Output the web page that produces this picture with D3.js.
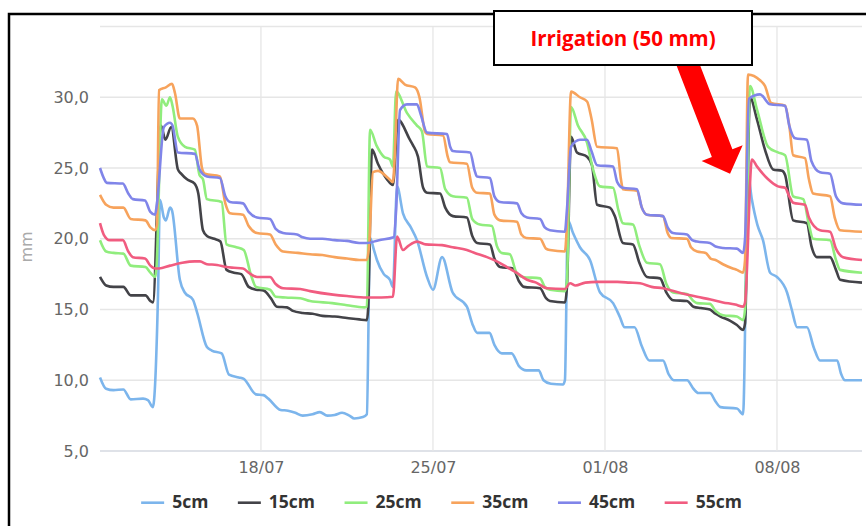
<!DOCTYPE html>
<html>
<head>
<meta charset="utf-8">
<script src="https://cdn.jsdelivr.net/npm/d3@7/dist/d3.min.js"></script>
<style>
  body { margin: 0; background: #fff; }
  svg { display: block; }
</style>
</head>
<body>
<div id="chart"></div>
<script>
// times are "day of July" (32 = 01/08), values in mm
var xTickDates = ["2016-07-18", "2016-07-25", "2016-08-01", "2016-08-08"];
var yTicks = [5, 10, 15, 20, 25, 30, 35];
var yLabelTicks = [5, 10, 15, 20, 25, 30];
var seriesNames = ["5cm", "15cm", "25cm", "35cm", "45cm", "55cm"];
var seriesColors = ["#7cb5ec", "#434348", "#90ed7d", "#f7a35c", "#8085e9", "#f15c80"];
var timeRange = [11.45, 42.46];

var s5cm = [[11.45,10.2],[11.7,9.4],[12.0,9.3],[12.4,9.35],[12.7,8.65],[13.2,8.7],[13.4,8.6],[13.6,8.1],
  [13.81,16],[13.89,22.75],[14.05,21.5],[14.13,21.3],[14.3,22.2],[14.38,22.0],[14.7,17.1],[14.9,16.2],[15.23,15.7],
  [15.4,14.8],[15.8,12.35],[16.0,12.1],[16.4,11.9],[16.7,10.4],[17.1,10.2],[17.3,10.1],[17.8,9.0],[18.1,8.95],
  [18.3,8.7],[18.8,7.9],[19.1,7.85],[19.4,7.7],[19.7,7.5],[20.1,7.6],[20.4,7.75],[20.7,7.5],[21.0,7.55],[21.3,7.7],
  [21.6,7.5],[21.8,7.3],[22.15,7.4],[22.31,7.6],[22.44,20.05],[22.6,19.2],[22.72,18.5],[23.0,17.5],[23.25,17.1],
  [23.37,16.6],[23.54,23.7],[23.78,21.8],[24.1,20.8],[24.35,19.9],[24.76,17.3],[25.0,16.4],[25.37,18.7],[25.8,16.2],
  [26.38,15.2],[26.6,14.0],[26.8,13.35],[27.3,13.35],[27.5,12.5],[27.8,11.9],[28.2,11.9],[28.5,11.0],[28.8,10.7],
  [29.3,10.7],[29.5,10.0],[29.8,9.75],[30.29,9.7],[30.37,10.0],[30.49,21.3],[30.7,20.4],[30.98,19.4],[31.39,18.5],
  [31.8,16.2],[32.33,15.45],[32.6,14.5],[32.8,13.75],[33.2,13.75],[33.5,12.4],[33.8,11.4],[34.36,11.4],[34.6,10.4],
  [34.8,10.0],[35.34,10.0],[35.6,9.4],[35.8,9.1],[36.27,9.1],[36.5,8.5],[36.7,8.1],[37.37,8.0],[37.62,7.6],
  [37.82,24.5],[37.98,22.75],[38.2,21.0],[38.43,19.9],[38.72,17.6],[39.0,17.3],[39.41,16.2],[39.6,15.0],
  [39.82,13.75],[40.22,13.75],[40.5,12.3],[40.75,11.4],[41.45,11.4],[41.6,10.5],[41.77,10.0],[42.46,10.0]];

var s15cm = [[11.45,17.3],[11.7,16.7],[12.0,16.6],[12.4,16.6],[12.7,16.0],[13.3,16.0],[13.5,15.6],[13.6,15.5],
  [13.93,28.0],[14.11,27.0],[14.35,27.9],[14.62,24.9],[14.75,24.6],[14.99,24.2],[15.3,23.9],[15.45,23.2],
  [15.64,20.6],[15.8,20.2],[16.1,20.0],[16.35,19.8],[16.6,17.8],[16.9,17.6],[17.2,17.5],[17.5,16.6],[17.8,16.4],
  [18.1,16.35],[18.4,15.8],[18.65,15.2],[19.06,15.15],[19.3,14.9],[19.7,14.75],[20.1,14.7],[20.5,14.55],[21.0,14.5],
  [21.5,14.4],[22.0,14.3],[22.31,14.25],[22.36,15.0],[22.52,26.3],[22.76,25.3],[23.13,24.2],[23.37,23.8],
  [23.58,28.4],[24.06,27.0],[24.19,26.6],[24.39,25.8],[24.6,23.6],[24.76,23.25],[25.29,23.2],[25.5,22.2],
  [25.81,21.6],[26.38,21.5],[26.6,20.2],[26.8,19.7],[27.32,19.6],[27.5,18.6],[27.73,18.0],[28.26,17.9],[28.5,17.0],
  [28.7,16.6],[29.36,16.5],[29.6,15.8],[29.76,15.6],[30.37,15.5],[30.45,16.5],[30.62,27.2],[30.86,26.1],
  [31.27,25.8],[31.47,25.2],[31.68,22.4],[32.2,22.2],[32.4,21.6],[32.73,19.7],[33.14,19.6],[33.4,18.3],
  [33.71,17.3],[34.24,17.2],[34.5,16.2],[34.77,15.65],[35.34,15.6],[35.6,15.2],[35.9,15.1],[36.27,15.0],
  [36.5,14.7],[36.7,14.5],[37.1,14.2],[37.37,13.9],[37.62,13.55],[37.7,14.0],[37.9,30.0],[38.19,28.4],
  [38.51,26.3],[38.84,24.9],[39.21,24.8],[39.33,24.5],[39.66,21.3],[40.22,21.1],[40.4,19.5],[40.63,18.7],
  [41.16,18.7],[41.4,17.8],[41.57,17.1],[42.46,16.9]];

var s25cm = [[11.45,19.9],[11.7,19.1],[12.0,19.0],[12.4,18.95],[12.7,18.1],[13.3,18.0],[13.5,17.6],[13.69,17.3],
  [13.75,18],[13.97,29.85],[14.15,29.4],[14.3,30.0],[14.4,29.4],[14.62,27.2],[14.91,26.5],[15.31,26.3],[15.5,24.5],
  [15.64,24.2],[15.8,22.8],[16.4,22.6],[16.6,19.6],[17.0,19.4],[17.3,19.2],[17.6,17.4],[17.8,16.6],[18.37,16.4],
  [18.6,15.9],[19.0,15.85],[19.6,15.8],[20.0,15.6],[20.9,15.45],[21.5,15.3],[22.2,15.15],[22.31,15.2],
  [22.44,27.7],[22.7,26.6],[23.0,25.8],[23.25,25.6],[23.37,25.1],[23.5,30.4],[23.94,28.9],[24.35,28.0],
  [24.55,27.6],[24.76,25.1],[25.29,25.0],[25.5,23.5],[25.81,23.0],[26.38,22.9],[26.6,21.4],[26.91,21.0],
  [27.4,20.9],[27.6,19.5],[27.8,19.0],[28.13,18.9],[28.4,17.6],[28.66,17.3],[29.36,17.2],[29.55,16.6],
  [29.76,16.4],[30.37,16.3],[30.45,17],[30.62,29.3],[30.9,28.0],[31.27,26.8],[31.5,25.0],[31.8,23.7],
  [32.33,23.6],[32.55,22.0],[32.73,21.1],[33.14,21.0],[33.4,19.5],[33.71,18.3],[34.24,18.2],[34.5,16.8],
  [34.77,16.2],[35.34,16.1],[35.6,15.6],[35.75,15.45],[36.27,15.4],[36.5,14.9],[36.8,14.6],[37.37,14.5],
  [37.62,14.25],[37.7,15],[37.9,30.8],[38.19,29.1],[38.64,26.5],[39.04,26.1],[39.33,25.9],[39.66,23.0],
  [40.07,22.8],[40.3,21.0],[40.47,20.0],[41.16,19.9],[41.4,18.5],[41.57,17.8],[42.46,17.6]];

var s35cm = [[11.45,23.1],[11.7,22.4],[12.0,22.2],[12.4,22.2],[12.7,21.4],[13.3,21.3],[13.5,20.8],[13.69,20.6],
  [13.77,21],[13.85,30.5],[14.13,30.7],[14.38,30.95],[14.5,30.3],[14.7,28.5],[15.23,28.5],[15.4,28.0],[15.6,25.0],
  [15.72,24.6],[16.33,24.4],[16.55,22.5],[16.74,21.8],[17.27,21.7],[17.5,20.9],[17.84,20.4],[18.37,20.3],
  [18.6,19.6],[18.9,19.1],[19.5,19.0],[20.0,18.9],[20.5,18.85],[21.0,18.7],[21.5,18.6],[22.0,18.5],[22.31,18.5],
  [22.4,19.5],[22.56,24.7],[22.76,24.8],[23.17,24.3],[23.37,24.0],[23.45,26],[23.58,31.3],[23.86,30.9],
  [24.27,30.7],[24.45,30.0],[24.67,27.6],[24.76,27.4],[25.41,27.3],[25.6,25.8],[25.69,25.4],[26.38,25.3],
  [26.6,23.6],[26.79,23.25],[27.32,23.2],[27.5,21.7],[27.73,21.3],[28.42,21.2],[28.6,20.3],[28.8,20.05],
  [29.36,20.0],[29.6,19.3],[29.76,19.2],[30.37,19.1],[30.45,21],[30.62,30.4],[30.98,30.0],[31.27,29.7],
  [31.45,28.5],[31.68,26.5],[32.49,26.4],[32.65,24.2],[32.73,23.5],[33.3,23.4],[33.5,22.2],[33.71,21.7],
  [34.36,21.6],[34.55,20.4],[34.7,20.05],[35.34,20.0],[35.5,19.4],[35.75,19.1],[36.1,19.0],[36.3,18.6],
  [36.5,18.5],[36.8,18.2],[37.2,17.9],[37.37,17.8],[37.62,17.6],[37.7,18.5],[37.82,31.6],[38.31,31.2],
  [38.51,30.8],[38.76,29.6],[39.33,29.4],[39.5,28.0],[39.66,25.9],[40.14,25.7],[40.3,24.2],[40.47,23.2],
  [41.16,23.0],[41.35,21.5],[41.57,20.6],[42.46,20.5]];

var s45cm = [[11.45,25.0],[11.6,24.3],[11.73,23.95],[12.38,23.9],[12.6,23.2],[12.79,22.8],[13.28,22.7],
  [13.5,21.9],[13.69,21.7],[13.77,22.5],[14.05,27.9],[14.3,28.2],[14.4,28.0],[14.62,26.1],[15.31,26.0],
  [15.5,24.9],[15.8,24.4],[16.33,24.3],[16.55,23.0],[16.74,22.6],[17.27,22.5],[17.5,21.9],[17.84,21.5],
  [18.37,21.4],[18.6,20.7],[18.9,20.4],[19.47,20.3],[19.7,20.1],[20.0,20.0],[20.5,20.0],[21.0,19.9],[21.5,19.85],
  [22.0,19.7],[22.31,19.7],[22.8,19.9],[23.4,20.1],[23.5,22],[23.66,29.1],[23.94,29.5],[24.35,29.5],[24.5,28.8],
  [24.76,27.5],[25.57,27.4],[25.7,26.5],[25.81,26.2],[26.51,26.1],[26.7,24.8],[26.79,24.4],[27.32,24.3],
  [27.5,23.0],[27.73,22.6],[28.42,22.5],[28.6,21.8],[28.83,21.5],[29.36,21.4],[29.55,20.8],[29.76,20.6],
  [30.37,20.5],[30.45,22.0],[30.62,26.5],[30.98,27.0],[31.27,27.0],[31.45,26.2],[31.68,25.2],[32.33,25.1],
  [32.5,24.0],[32.73,23.6],[33.3,23.5],[33.5,22.2],[33.71,21.7],[34.36,21.6],[34.55,20.8],[34.77,20.4],
  [35.34,20.3],[35.55,19.9],[35.75,19.8],[36.27,19.7],[36.5,19.45],[36.8,19.35],[37.37,19.3],[37.62,19.0],
  [37.7,20],[37.86,29.9],[38.31,30.2],[38.72,29.5],[39.33,29.4],[39.5,28.0],[39.74,27.1],[40.22,27.0],
  [40.4,25.5],[40.75,24.7],[41.16,24.6],[41.4,23.0],[41.69,22.5],[42.46,22.4]];

var s55cm = [[11.45,21.1],[11.6,20.3],[11.85,19.9],[12.38,19.9],[12.6,19.1],[12.79,18.7],[13.28,18.6],
  [13.5,18.1],[13.69,17.9],[13.85,17.9],[14.3,18.1],[14.8,18.3],[15.3,18.4],[15.52,18.4],[15.8,18.2],
  [16.21,18.15],[16.6,18.0],[16.9,17.95],[17.27,17.9],[17.5,17.6],[17.84,17.3],[18.37,17.3],[18.6,16.8],
  [18.9,16.5],[19.6,16.45],[20.0,16.3],[20.93,16.05],[21.5,15.95],[22.31,15.85],[22.9,15.85],[23.37,15.9],
  [23.54,20.15],[23.78,19.2],[24.0,19.5],[24.35,19.8],[24.7,19.6],[25.37,19.55],[25.8,19.4],[26.38,19.2],
  [26.7,19.0],[27.2,18.7],[27.6,18.4],[28.01,18.0],[28.4,17.6],[28.83,17.1],[29.2,16.9],[29.64,16.5],
  [30.37,16.45],[30.58,16.85],[30.8,16.7],[31.2,16.9],[31.68,16.95],[32.5,16.95],[33.0,16.9],[33.43,16.85],
  [33.9,16.6],[34.36,16.5],[35.0,16.2],[35.75,15.9],[36.3,15.7],[36.8,15.5],[37.3,15.35],[37.62,15.2],
  [37.7,15.5],[37.98,25.6],[38.19,25.1],[38.64,24.2],[39.04,23.7],[39.33,23.6],[39.5,23.0],[39.66,22.55],
  [40.14,22.4],[40.3,21.5],[40.75,20.6],[41.16,20.5],[41.4,19.3],[41.69,18.7],[42.46,18.5]];

var seriesData = [s5cm, s15cm, s25cm, s35cm, s45cm, s55cm];

var annotationText = "Irrigation (50 mm)";
var irrigationPoint = [37.09, 24.6];

var width = 866, height = 526;
var plot = {left: 100, right: 862, top: 26.5, bottom: 451};

function toDate(d) { return new Date(Date.UTC(2016, 6, 1) + (d - 1) * 864e5); }

var svg = d3.select("#chart").append("svg")
    .attr("width", width)
    .attr("height", height);

var x = d3.scaleUtc().domain(timeRange.map(toDate)).range([plot.left, plot.right]);
var y = d3.scaleLinear().domain([5, 35]).range([plot.bottom, plot.top]);

// outer frame
svg.append("rect")
    .attr("x", 9).attr("y", 14)
    .attr("width", 900).attr("height", 600)
    .style("fill", "none").style("stroke", "#000").style("stroke-width", 2.5);

// horizontal grid
svg.append("g").selectAll("line").data(yTicks).enter().append("line")
    .attr("x1", plot.left).attr("x2", plot.right)
    .attr("y1", function(d) { return y(d); }).attr("y2", function(d) { return y(d); })
    .style("stroke", function(d) { return d == 5 ? "#d5d9e0" : "#e6e6e6"; })
    .style("stroke-width", 1.3);

// vertical grid
var tickDates = xTickDates.map(function(s) { return new Date(s + "T00:00:00Z"); });
svg.append("g").selectAll("line").data(tickDates).enter().append("line")
    .attr("x1", function(d) { return x(d); }).attr("x2", function(d) { return x(d); })
    .attr("y1", plot.top).attr("y2", plot.bottom)
    .style("stroke", "#e6e6e6").style("stroke-width", 1.3);

// y axis labels
var yAxis = svg.append("g")
    .attr("transform", "translate(" + plot.left + ",0)")
    .call(d3.axisLeft(y).tickValues(yLabelTicks).tickSize(0).tickPadding(11)
      .tickFormat(function(d) { return d3.format(".1f")(d).replace(".", ","); }));
yAxis.select(".domain").remove();
yAxis.selectAll("text").style("font-family", "DejaVu Sans").style("font-size", "16px").style("fill", "#666");

// x axis labels
var xAxis = svg.append("g")
    .attr("transform", "translate(0," + plot.bottom + ")")
    .call(d3.axisBottom(x).tickValues(tickDates).tickSize(0).tickPadding(10.5)
      .tickFormat(d3.utcFormat("%d/%m")));
xAxis.select(".domain").remove();
xAxis.selectAll("text").style("font-family", "DejaVu Sans").style("font-size", "16px").style("fill", "#666");

// axis title
svg.append("text")
    .attr("transform", "translate(32," + 247 + ") rotate(-90)")
    .attr("text-anchor", "middle")
    .style("font-family", "DejaVu Sans").style("font-size", "16px").style("fill", "#aaa")
    .text("mm");

// lines
var valueline = d3.line()
    .x(function(d) { return x(toDate(d[0])); })
    .y(function(d) { return y(d[1]); })
    .curve(d3.curveMonotoneX);

seriesData.forEach(function(s, i) {
  svg.append("path")
      .data([s])
      .attr("class", "line")
      .style("stroke", seriesColors[i])
      .style("stroke-width", 2.6)
      .style("stroke-linejoin", "round")
      .style("fill", "none")
      .attr("d", valueline);
});

// legend
var legend = svg.append("g");
var items = [];
var lx = 0;
seriesNames.forEach(function(name, i) {
  var g = legend.append("g");
  g.append("line").attr("x1", 0).attr("x2", 23).attr("y1", 502.7).attr("y2", 502.7)
      .style("stroke", seriesColors[i]).style("stroke-width", 2.6);
  var t = g.append("text").attr("x", 31).attr("y", 508)
      .style("font-family", "Open Sans").style("font-weight", "bold")
      .style("font-size", "17.5px").style("fill", "#333")
      .text(name);
  var w = t.node().getComputedTextLength();
  g.attr("transform", "translate(" + lx + ",0)");
  lx += 31 + w + 29.5;
});
var legendWidth = lx - 29.5;
legend.attr("transform", "translate(" + (441.5 - legendWidth / 2) + ",0)");

// irrigation arrow
var tip = [x(toDate(irrigationPoint[0])), y(irrigationPoint[1])];
var ux = 0.3596, uy = 0.9332, nx = 0.9332, ny = -0.3596;
var base = [tip[0] - 22 * ux, tip[1] - 22 * uy];
var tail = [tip[0] - 135 * ux, tip[1] - 135 * uy];
var arrow = [
  [tail[0] + 11 * nx, tail[1] + 11 * ny],
  [base[0] + 11 * nx, base[1] + 11 * ny],
  [base[0] + 22 * nx, base[1] + 22 * ny],
  tip,
  [base[0] - 22 * nx, base[1] - 22 * ny],
  [base[0] - 11 * nx, base[1] - 11 * ny],
  [tail[0] - 11 * nx, tail[1] - 11 * ny]
];
svg.append("path")
    .attr("d", "M" + arrow.map(function(p) { return p.join(","); }).join("L") + "Z")
    .style("fill", "#ff0000");

// annotation box
svg.append("rect")
    .attr("x", 494).attr("y", 11).attr("width", 258).attr("height", 54)
    .style("fill", "#fff").style("stroke", "#000").style("stroke-width", 2);
svg.append("text")
    .attr("x", 623).attr("y", 46)
    .attr("text-anchor", "middle")
    .style("font-family", "Open Sans").style("font-weight", "bold")
    .style("font-size", "20.5px").style("fill", "#ff0000")
    .text(annotationText);
</script>
</body>
</html>
